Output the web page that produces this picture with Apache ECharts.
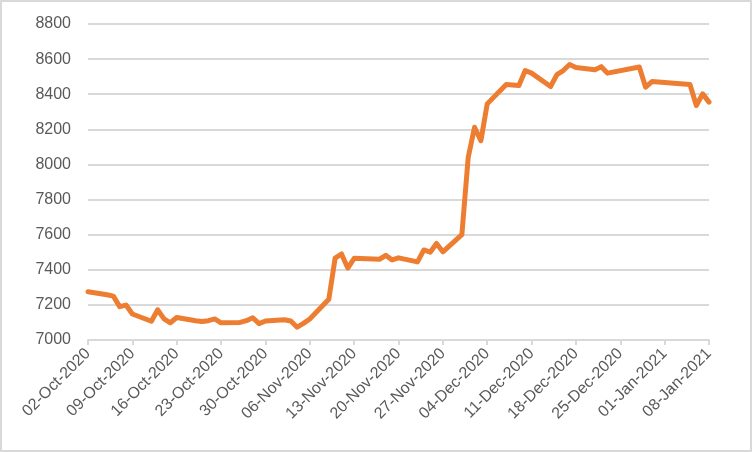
<!DOCTYPE html>
<html>
<head>
<meta charset="utf-8">
<script src="https://cdn.jsdelivr.net/npm/echarts@6/dist/echarts.min.js"></script>
<style>
html,body{margin:0;padding:0;background:#fff;}
#wrap{width:752px;height:452px;box-sizing:border-box;border:2px solid #d9d9d9;position:relative;}
#chart{position:absolute;left:-2px;top:-2px;width:752px;height:452px;}
</style>
</head>
<body>
<div id="wrap"><div id="chart"></div></div>
<script>
var dates = ['2020-10-02','2020-10-05','2020-10-06','2020-10-07','2020-10-08','2020-10-09',
  '2020-10-12','2020-10-13','2020-10-14','2020-10-15','2020-10-16',
  '2020-10-19','2020-10-20','2020-10-21','2020-10-22','2020-10-23',
  '2020-10-26','2020-10-27','2020-10-28','2020-10-29','2020-10-30',
  '2020-11-02','2020-11-03','2020-11-04','2020-11-05','2020-11-06',
  '2020-11-09','2020-11-10','2020-11-11','2020-11-12','2020-11-13',
  '2020-11-17','2020-11-18','2020-11-19','2020-11-20',
  '2020-11-23','2020-11-24','2020-11-25','2020-11-26','2020-11-27',
  '2020-11-30','2020-12-01','2020-12-02','2020-12-03','2020-12-04',
  '2020-12-07','2020-12-09','2020-12-10','2020-12-11',
  '2020-12-14','2020-12-15','2020-12-16','2020-12-17','2020-12-18',
  '2020-12-21','2020-12-22','2020-12-23',
  '2020-12-28','2020-12-29','2020-12-30',
  '2021-01-05','2021-01-06','2021-01-07','2021-01-08'];
var values = [7275,7258,7250,7190,7199,7148,
  7107,7172,7120,7098,7128,
  7110,7106,7110,7120,7098,
  7100,7110,7127,7093,7108,
  7115,7108,7073,7095,7120,
  7232,7466,7490,7410,7465,
  7460,7482,7456,7468,
  7445,7513,7500,7550,7502,
  7600,8040,8212,8135,8345,
  8456,8450,8535,8520,
  8444,8512,8535,8569,8552,
  8540,8557,8520,
  8555,8440,8472,
  8455,8336,8402,8355];
var startDate = '2020-10-02';
var yTicks = [7000,7200,7400,7600,7800,8000,8200,8400,8600,8800];
var months = ['Jan','Feb','Mar','Apr','May','Jun','Jul','Aug','Sep','Oct','Nov','Dec'];

var DAY = 86400000;
var sp = startDate.split('-');
var t0 = Date.UTC(+sp[0], +sp[1]-1, +sp[2]);
function dayOffset(s){var p=s.split('-');return Math.round((Date.UTC(+p[0],+p[1]-1,+p[2])-t0)/DAY);}
function labelFor(d){
  var dt = new Date(t0 + d*DAY);
  var dd = dt.getUTCDate();
  return (dd<10?'0':'')+dd+'-'+months[dt.getUTCMonth()]+'-'+dt.getUTCFullYear();
}
var seriesData = dates.map(function(s,i){return [dayOffset(s), values[i]];});

var chart = echarts.init(document.getElementById('chart'), null, {renderer:'canvas'});
chart.setOption({
  animation:false,
  backgroundColor:'transparent',
  grid:{left:88,right:43,top:24,bottom:112,containLabel:false},
  xAxis:{
    type:'value', min:0, max:98, interval:7,
    axisLine:{show:true,lineStyle:{color:'#d9d9d9',width:2}},
    axisTick:{show:true,inside:false,length:5,lineStyle:{color:'#d9d9d9',width:2}},
    splitLine:{show:false},
    axisLabel:{
      rotate:45, margin:11, color:'#595959', fontSize:16,
      fontFamily:'Liberation Sans, Arial, sans-serif',
      formatter:function(v){return v%7===0?labelFor(v):'';}
    }
  },
  yAxis:{
    type:'value', min:yTicks[0], max:yTicks[yTicks.length-1], interval:200,
    axisLine:{show:false}, axisTick:{show:false},
    splitLine:{lineStyle:{color:'#d9d9d9',width:2}},
    axisLabel:{margin:17,color:'#595959',fontSize:16,fontFamily:'Liberation Sans, Arial, sans-serif',
      formatter:function(v){return String(v);}}
  },
  series:[{
    type:'line', data:seriesData, showSymbol:false, symbol:'none',
    lineStyle:{color:'#ED7D31',width:5,join:'round',cap:'round'},
    z:3
  }]
});
</script>
</body>
</html>
